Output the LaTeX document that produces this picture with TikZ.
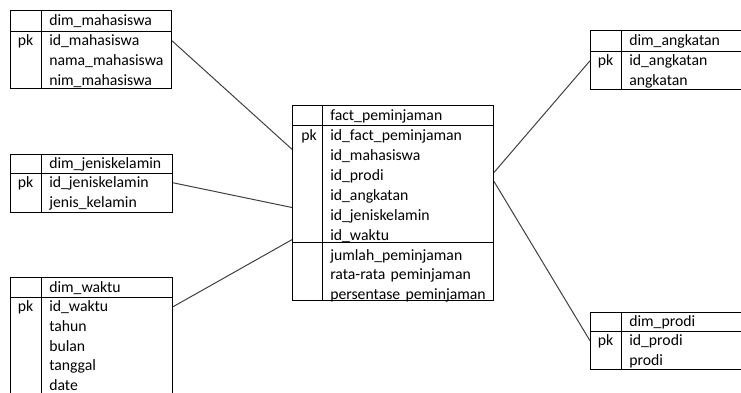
\documentclass[tikz,border=0pt]{standalone}
\usepackage{fontspec}
\setmainfont{Carlito}
\usetikzlibrary{positioning, calc}

\newlength{\upx}
\setlength{\upx}{0.75pt}
\newcommand{\tblfont}{\fontsize{11.8}{14}\selectfont}

\begin{document}
\begin{tikzpicture}[
    x=0.75pt, y=-0.75pt,
    tbl/.style={draw, line width=0.75pt, anchor=north west, inner sep=0pt},
    row/.style={anchor=north west, font=\tblfont, text width=165\upx, align=left, inner sep=0pt, minimum height=19\upx, text height=9.4pt, text depth=1.6pt},
    pkcell/.style={anchor=north, font=\tblfont, inner sep=0pt, minimum height=19\upx, text height=9.4pt, text depth=1.6pt},
    link/.style={draw=black!75, line width=0.75pt}
]
    \useasboundingbox (0,0) rectangle (741,392);

    % dim_mahasiswa
    \node[tbl, minimum width=161\upx, minimum height=78\upx] (mhs) at (10,10) {};
    \node[tbl, minimum width=31\upx, minimum height=78\upx] (mhs-pk) at (10,10) {};
    \node[tbl, minimum width=161\upx, minimum height=21\upx] (mhs-hd) at (10,10) {};
    \node[row, minimum height=21\upx] (mhs-name) at (49,10) {dim\_mahasiswa};
    \node[pkcell] (mhs-key) at (25.5,31) {pk};
    \node[row] (mhs-1) at (49,31) {id\_mahasiswa};
    \node[row, below=0pt of mhs-1] (mhs-2) {nama\_mahasiswa};
    \node[row, below=0pt of mhs-2] (mhs-3) {nim\_mahasiswa};

    % dim_jeniskelamin
    \node[tbl, minimum width=162\upx, minimum height=58\upx] (jk) at (10,154) {};
    \node[tbl, minimum width=31\upx, minimum height=58\upx] (jk-pk) at (10,154) {};
    \node[tbl, minimum width=162\upx, minimum height=19\upx] (jk-hd) at (10,154) {};
    \node[row] (jk-name) at (49,154) {dim\_jeniskelamin};
    \node[pkcell] (jk-key) at (25.5,173) {pk};
    \node[row] (jk-1) at (49,173) {id\_jeniskelamin};
    \node[row, below=0pt of jk-1] (jk-2) {jenis\_kelamin};

    % dim_waktu
    \node[tbl, minimum width=162\upx, minimum height=123\upx] (wkt) at (10,277) {};
    \node[tbl, minimum width=31\upx, minimum height=123\upx] (wkt-pk) at (10,277) {};
    \node[tbl, minimum width=162\upx, minimum height=20\upx] (wkt-hd) at (10,277) {};
    \node[row, minimum height=20\upx] (wkt-name) at (49,277) {dim\_waktu};
    \node[pkcell] (wkt-key) at (25.5,297) {pk};
    \node[row] (wkt-1) at (49,297) {id\_waktu};
    \node[row, below=0pt of wkt-1] (wkt-2) {tahun};
    \node[row, below=0pt of wkt-2] (wkt-3) {bulan};
    \node[row, below=0pt of wkt-3] (wkt-4) {tanggal};
    \node[row, below=0pt of wkt-4] (wkt-5) {date};

    % fact_peminjaman
    \node[tbl, minimum width=201\upx, minimum height=195\upx] (fact) at (292,105) {};
    \node[tbl, minimum width=30\upx, minimum height=195\upx] (fact-pk) at (292,105) {};
    \node[tbl, minimum width=201\upx, minimum height=137\upx] (fact-keys) at (292,105) {};
    \node[tbl, minimum width=201\upx, minimum height=20\upx] (fact-hd) at (292,105) {};
    \node[row, minimum height=20\upx] (fact-name) at (330,105) {fact\_peminjaman};
    \node[pkcell, minimum height=19.5\upx] (fact-key) at (309,125) {pk};
    \node[row, minimum height=19.5\upx] (fact-1) at (330,125) {id\_fact\_peminjaman};
    \node[row, minimum height=19.5\upx, below=0pt of fact-1] (fact-2) {id\_mahasiswa};
    \node[row, minimum height=19.5\upx, below=0pt of fact-2] (fact-3) {id\_prodi};
    \node[row, minimum height=19.5\upx, below=0pt of fact-3] (fact-4) {id\_angkatan};
    \node[row, minimum height=19.5\upx, below=0pt of fact-4] (fact-5) {id\_jeniskelamin};
    \node[row, minimum height=19.5\upx, below=0pt of fact-5] (fact-6) {id\_waktu};
    \node[row, below=0pt of fact-6] (fact-7) {jumlah\_peminjaman};
    \node[row, below=0pt of fact-7] (fact-8) {rata-rata peminjaman};
    \node[row, below=0pt of fact-8] (fact-9) {persentase peminjaman};

    % dim_angkatan
    \node[tbl, minimum width=160\upx, minimum height=59\upx] (ang) at (590,30) {};
    \node[tbl, minimum width=31\upx, minimum height=59\upx] (ang-pk) at (590,30) {};
    \node[tbl, minimum width=160\upx, minimum height=21\upx] (ang-hd) at (590,30) {};
    \node[row, minimum height=21\upx] (ang-name) at (629,30) {dim\_angkatan};
    \node[pkcell] (ang-key) at (605.5,51) {pk};
    \node[row] (ang-1) at (629,51) {id\_angkatan};
    \node[row, below=0pt of ang-1] (ang-2) {angkatan};

    % dim_prodi
    \node[tbl, minimum width=160\upx, minimum height=57\upx] (prd) at (590,312) {};
    \node[tbl, minimum width=31\upx, minimum height=57\upx] (prd-pk) at (590,312) {};
    \node[tbl, minimum width=160\upx, minimum height=19\upx] (prd-hd) at (590,312) {};
    \node[row] (prd-name) at (629,312) {dim\_prodi};
    \node[pkcell] (prd-key) at (605.5,331) {pk};
    \node[row] (prd-1) at (629,331) {id\_prodi};
    \node[row, below=0pt of prd-1] (prd-2) {prodi};

    % relasi ke tabel fakta
    \draw[link] (mhs.east |- mhs-1) -- ($(fact.north west)!0.226!(fact.south west)$);
    \draw[link] (jk.east |- jk-1) -- ($(fact.north west)!0.523!(fact.south west)$);
    \draw[link] (wkt.east |- wkt-1) -- ($(fact.north west)!0.687!(fact.south west)$);
    \draw[link] ($(fact.north east)!0.344!(fact.south east)$) -- (ang.west |- ang-1);
    \draw[link] ($(fact.north east)!0.390!(fact.south east)$) -- (prd.west |- prd-1);
\end{tikzpicture}
\end{document}
